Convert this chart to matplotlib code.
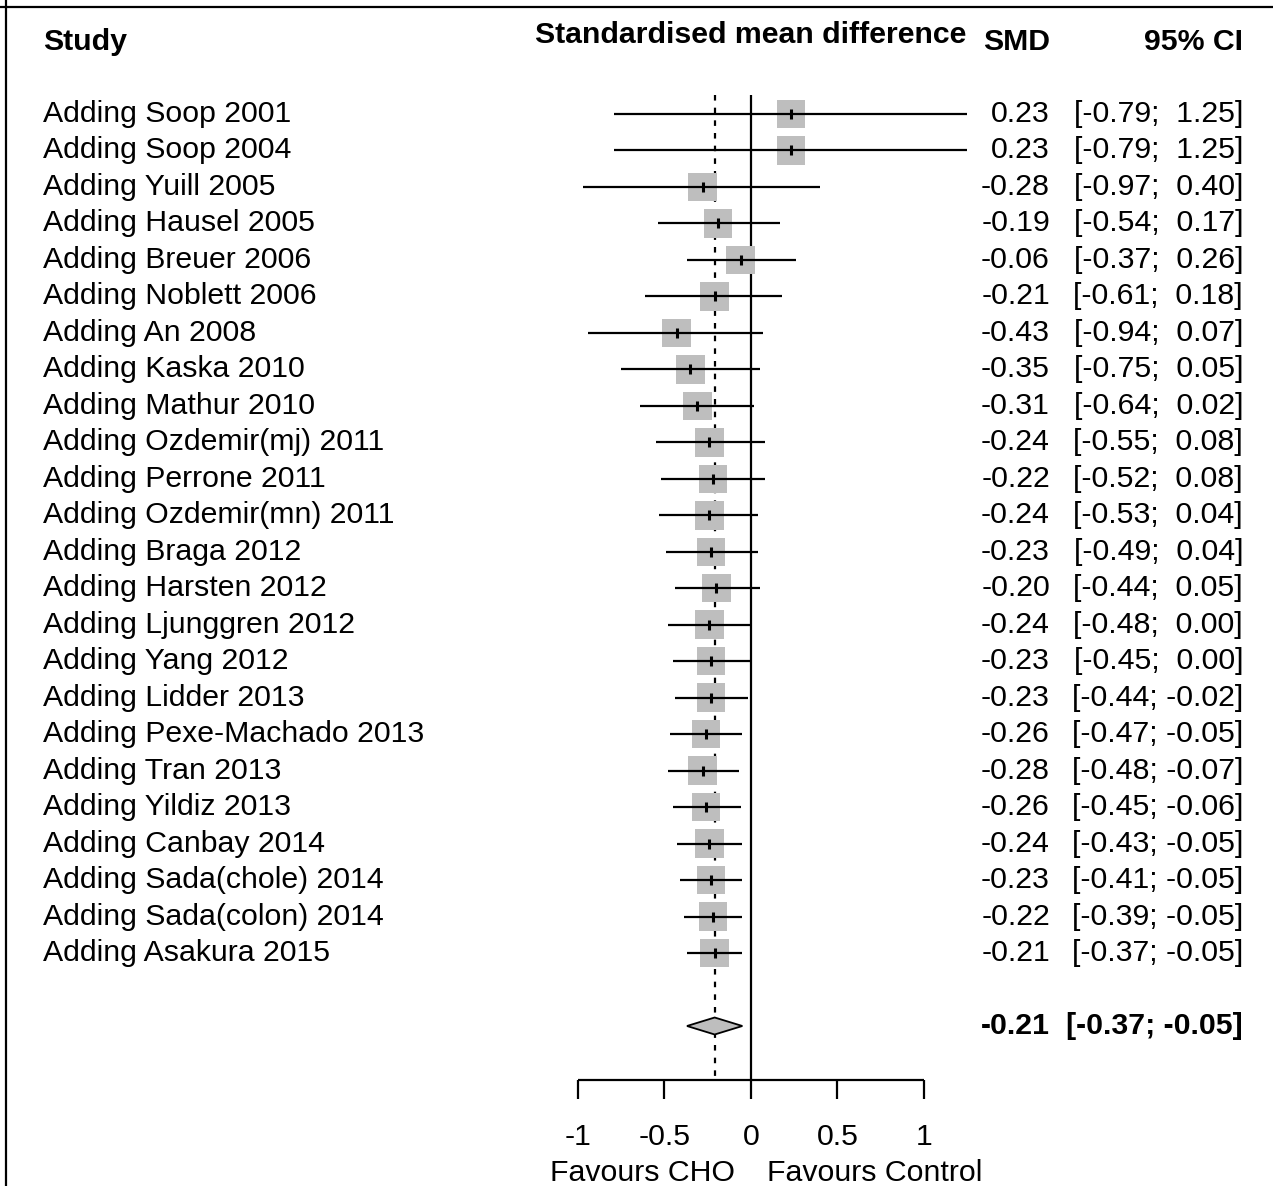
import matplotlib
matplotlib.use("Agg")
import matplotlib.pyplot as plt
from matplotlib.patches import Polygon
from matplotlib.lines import Line2D

plt.rcParams['font.family'] = ['Liberation Sans', 'DejaVu Sans']

# cumulative meta-analysis, one study added per row
studies = ['Adding Soop 2001', 'Adding Soop 2004', 'Adding Yuill 2005',
           'Adding Hausel 2005', 'Adding Breuer 2006', 'Adding Noblett 2006',
           'Adding An 2008', 'Adding Kaska 2010', 'Adding Mathur 2010',
           'Adding Ozdemir(mj) 2011', 'Adding Perrone 2011',
           'Adding Ozdemir(mn) 2011', 'Adding Braga 2012', 'Adding Harsten 2012',
           'Adding Ljunggren 2012', 'Adding Yang 2012', 'Adding Lidder 2013',
           'Adding Pexe-Machado 2013', 'Adding Tran 2013', 'Adding Yildiz 2013',
           'Adding Canbay 2014', 'Adding Sada(chole) 2014',
           'Adding Sada(colon) 2014', 'Adding Asakura 2015']
smd = [0.23, 0.23, -0.28, -0.19, -0.06, -0.21, -0.43, -0.35, -0.31, -0.24,
       -0.22, -0.24, -0.23, -0.20, -0.24, -0.23, -0.23, -0.26, -0.28, -0.26,
       -0.24, -0.23, -0.22, -0.21]
lower = [-0.79, -0.79, -0.97, -0.54, -0.37, -0.61, -0.94, -0.75, -0.64, -0.55,
         -0.52, -0.53, -0.49, -0.44, -0.48, -0.45, -0.44, -0.47, -0.48, -0.45,
         -0.43, -0.41, -0.39, -0.37]
upper = [1.25, 1.25, 0.40, 0.17, 0.26, 0.18, 0.07, 0.05, 0.02, 0.08,
         0.08, 0.04, 0.04, 0.05, 0.00, 0.00, -0.02, -0.05, -0.07, -0.06,
         -0.05, -0.05, -0.05, -0.05]
pooled = -0.21
pooled_lo = -0.37
pooled_hi = -0.05
xticks = [-1, -0.5, 0, 0.5, 1]
xticklabels = ['-1', '-0.5', '0', '0.5', '1']

W, H = 1273, 1186
fig = plt.figure(figsize=(W / 100, H / 100), dpi=100)
ax = fig.add_axes([0, 0, 1, 1])

# scale: 1 SMD unit = 173 px, x=-1 sits at px 578; one row = 36.48 px, row 0 at px 114
ux, x0px = 173.0, 578.0
uy, y0px = 36.48, 114.0
ax.set_xlim(-1 - x0px / ux, -1 + (W - x0px) / ux)
ax.set_ylim((H - y0px) / uy, -y0px / uy)
ax.axis('off')

fs = 21.8
grey = '#BEBEBE'
rows = list(range(len(studies)))
pooled_row = len(studies) + 1
axis_row = 26.48
top_row = -0.52

# reference lines
ax.vlines(0, top_row, axis_row, color='black', lw=1.6, zorder=1)
ax.vlines(pooled, top_row, axis_row, color='black', lw=1.6,
          linestyles=[(0, (2.5, 3.2))], zorder=1)

# confidence intervals, squares, point ticks
ax.hlines(rows, lower, upper, color='black', lw=1.6, zorder=3, clip_on=False)
ax.scatter(smd, rows, marker='s', s=420, color=grey, edgecolors='none',
           zorder=2)
ax.scatter(smd, rows, marker='|', s=60, color='black', linewidths=2.2,
           zorder=4)

# pooled diamond
dh = 8.5 / uy
diamond = Polygon([(pooled_lo, pooled_row), (pooled, pooled_row - dh),
                   (pooled_hi, pooled_row), (pooled, pooled_row + dh)],
                  closed=True, facecolor=grey, edgecolor='black', lw=1.3,
                  zorder=3)
ax.add_patch(diamond)

# x axis
ax.hlines(axis_row, xticks[0], xticks[-1], color='black', lw=1.6)
tick_len = 19 / uy
ax.vlines(xticks, axis_row, axis_row + tick_len, color='black', lw=1.6)
for t, lab in zip(xticks, xticklabels):
    ax.text(t, 28.04, lab, ha='center', va='center', fontsize=fs)
ax.text(-0.09, 29.02, 'Favours CHO', ha='right', va='center', fontsize=fs)
ax.text(0.09, 29.02, 'Favours Control', ha='left', va='center', fontsize=fs)

# text columns
x_study = -1 + (43 - x0px) / ux
x_smd = -1 + (1050 - x0px) / ux
x_ci = -1 + (1243 - x0px) / ux

ax.text(x_study, -1.97, 'Study', ha='left', va='center', fontsize=fs,
        fontweight='bold')
ax.text(0, -2.17, 'Standardised mean difference', ha='center', va='center',
        fontsize=fs, fontweight='bold')
ax.text(x_smd, -1.97, 'SMD', ha='right', va='center', fontsize=fs,
        fontweight='bold')
ax.text(x_ci, -1.97, '95% CI', ha='right', va='center', fontsize=fs,
        fontweight='bold')

for i, name in enumerate(studies):
    ax.text(x_study, i, name, ha='left', va='center', fontsize=fs)
    ax.text(x_smd, i, '%.2f' % smd[i], ha='right', va='center', fontsize=fs)
    ax.text(x_ci, i, '[%5.2f; %5.2f]' % (lower[i], upper[i]), ha='right',
            va='center', fontsize=fs)

ax.text(x_smd, pooled_row, '%.2f' % pooled, ha='right', va='center',
        fontsize=fs, fontweight='bold')
ax.text(x_ci, pooled_row, '[%5.2f; %5.2f]' % (pooled_lo, pooled_hi),
        ha='right', va='center', fontsize=fs, fontweight='bold')

# frame along top and left edges
fig.add_artist(Line2D([0, 1], [1 - 6.5 / H, 1 - 6.5 / H], color='black',
                      lw=1.6, transform=fig.transFigure))
fig.add_artist(Line2D([6 / W, 6 / W], [0, 1], color='black', lw=1.6,
                      transform=fig.transFigure))

fig.savefig('out.png', dpi=100)
